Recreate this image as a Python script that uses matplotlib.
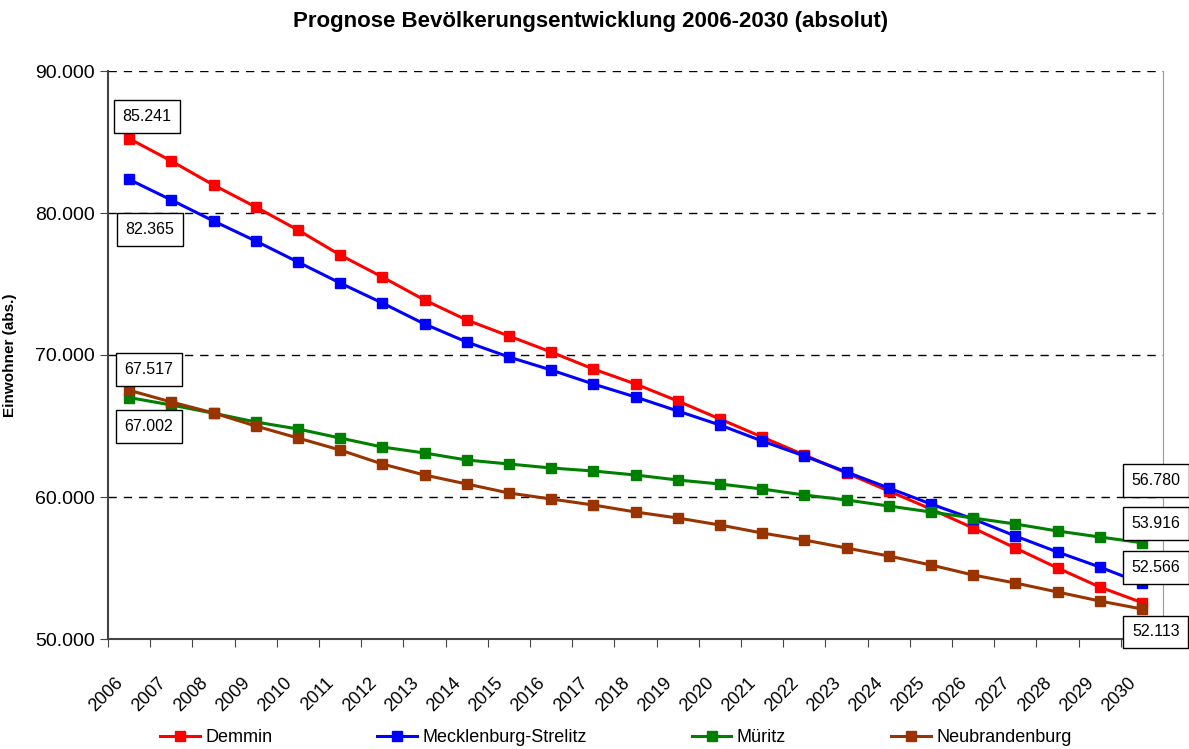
import matplotlib
matplotlib.use("Agg")
import matplotlib.pyplot as plt
from matplotlib.ticker import FuncFormatter

plt.rcParams['font.family'] = ['Liberation Sans', 'DejaVu Sans']

years = [str(y) for y in range(2006, 2031)]

demmin = [85241, 83662, 81972, 80423, 78803, 77043, 75493, 73873, 72465, 71338,
          70211, 69014, 67958, 66761, 65493, 64225, 62958, 61690, 60423, 59155,
          57817, 56408, 55000, 53662, 52566]
meck_strelitz = [82365, 80916, 79437, 78028, 76549, 75070, 73662, 72183, 70915, 69859,
                 68944, 67958, 67042, 66056, 65070, 63944, 62887, 61760, 60634, 59507,
                 58451, 57254, 56127, 55070, 53916]
mueritz = [67002, 66480, 65900, 65282, 64789, 64155, 63521, 63099, 62606, 62324,
           62043, 61831, 61549, 61197, 60916, 60564, 60141, 59789, 59366, 58944,
           58521, 58099, 57606, 57183, 56780]
neubrandenburg = [67517, 66690, 65920, 65000, 64155, 63310, 62324, 61549, 60916, 60282,
                  59859, 59437, 58944, 58521, 58028, 57465, 56972, 56408, 55845, 55211,
                  54507, 53944, 53310, 52677, 52113]

series = [
    ("Demmin", demmin, "#FF0000"),
    ("Mecklenburg-Strelitz", meck_strelitz, "#0000FF"),
    ("Müritz", mueritz, "#008000"),
    ("Neubrandenburg", neubrandenburg, "#993300"),
]

fig = plt.figure(figsize=(11.89, 7.49), dpi=100)
ax = fig.add_axes([108 / 1189, 1 - 639 / 749, (1163 - 108) / 1189, (639 - 71) / 749])

x = list(range(len(years)))
for name, vals, col in series:
    ax.plot(x, vals, color=col, lw=2.2, marker='s', markersize=7.5, label=name)

ax.set_xlim(-0.5, len(years) - 0.5)
ax.set_ylim(50000, 90000)
ax.set_yticks([50000, 60000, 70000, 80000, 90000])
ax.yaxis.set_major_formatter(FuncFormatter(lambda v, p: f"{int(v):,}".replace(",", ".")))
ax.tick_params(axis='y', labelsize=14, length=6, direction='out', color='#444444')

# ticks at category borders, labels near the centres
ax.set_xticks([i - 0.5 for i in range(len(years) + 1)])
ax.set_xticklabels([])
ax.set_xticks([i - 0.2 for i in x], years, minor=True)
ax.tick_params(axis='x', which='major', length=6, direction='out', color='#444444')
ax.tick_params(axis='x', which='minor', length=0, pad=30, labelsize=13)
for lab in ax.get_xticklabels(minor=True):
    lab.set_rotation(45)
    lab.set_ha('right')
    lab.set_va('center')
    lab.set_rotation_mode('anchor')

for yv in [60000, 70000, 80000, 90000]:
    ax.axhline(yv, color='black', lw=1, ls=(0, (6, 5)), zorder=0)

ax.spines['left'].set_color('#444444')
ax.spines['bottom'].set_color('#444444')
ax.spines['left'].set_linewidth(1.5)
ax.spines['bottom'].set_linewidth(1.5)
ax.spines['right'].set_color('#999999')
ax.spines['top'].set_visible(False)

ax.set_ylabel("Einwohner (abs.)", fontsize=11, fontweight='bold')
ax.yaxis.set_label_coords(-0.086, 0.5)
fig.text(0.497, 0.971, "Prognose Bevölkerungsentwicklung 2006-2030 (absolut)",
         ha='center', va='center', fontsize=16, fontweight='bold')

box = dict(boxstyle='square,pad=0.55', fc='white', ec='black', lw=1)
labels = [
    (0, demmin[0], 18, 22),
    (0, meck_strelitz[0], 21, -50),
    (0, neubrandenburg[0], 20, 21),
    (0, mueritz[0], 20, -29),
    (24, mueritz[-1], 14, 62),
    (24, meck_strelitz[-1], 14, 60),
    (24, demmin[-1], 14, 35),
    (24, neubrandenburg[-1], 14, -23),
]
for i, v, dx, dy in labels:
    ax.annotate(f"{v:,}".replace(",", "."), xy=(i, v), xytext=(dx, dy),
                textcoords='offset pixels', ha='center', va='center',
                fontsize=11.5, bbox=box, annotation_clip=False, zorder=5)

fig.legend(loc='center', bbox_to_anchor=(0.518, 0.015), ncol=4, frameon=False,
           fontsize=13, columnspacing=5.8, handlelength=2.2, handletextpad=0.3)

fig.savefig("out.png", dpi=100)
